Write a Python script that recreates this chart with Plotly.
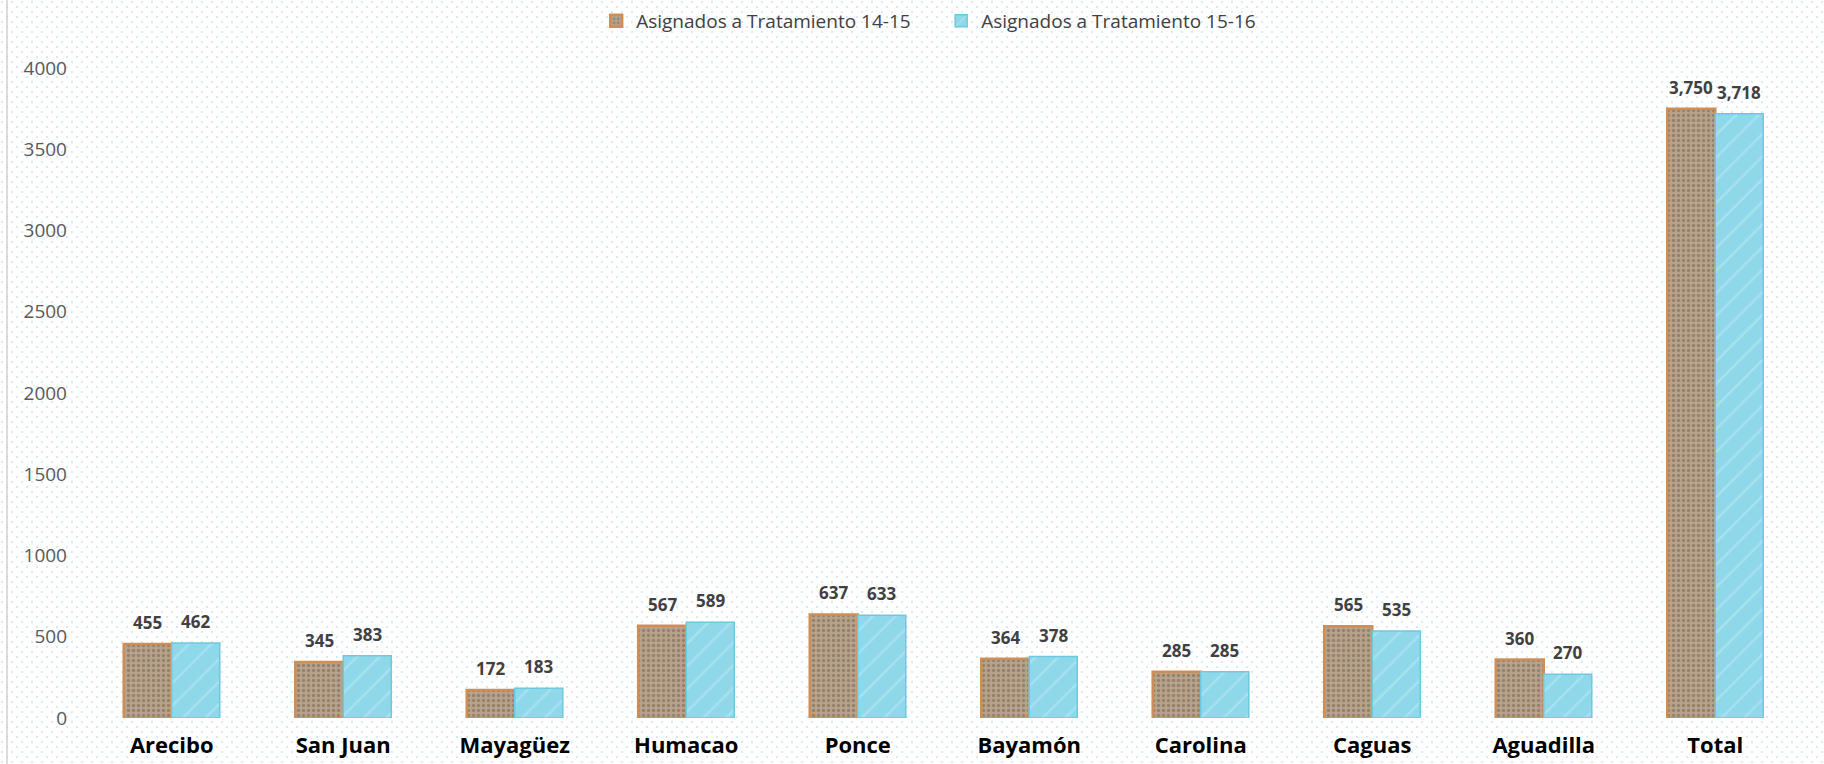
import plotly.graph_objects as go

categories = ["Arecibo", "San Juan", "Mayagüez", "Humacao", "Ponce", "Bayamón", "Carolina", "Caguas", "Aguadilla", "Total"]
series_names = ["Asignados a Tratamiento 14-15", "Asignados a Tratamiento 15-16"]
values_1415 = [455, 345, 172, 567, 637, 364, 285, 565, 360, 3750]
values_1516 = [462, 383, 183, 589, 633, 378, 285, 535, 270, 3718]
y_ticks = [0, 500, 1000, 1500, 2000, 2500, 3000, 3500, 4000]

W, H = 1824, 764
ML, MR, MT, MB = 86, 23, 68, 46
PW, PH = W - ML - MR, H - MT - MB

FONT = "Open Sans"
LABEL_FONT = dict(family=FONT, size=17, color="#404040", weight="bold")

dots_svg = (
    "data:image/svg+xml;utf8,"
    "<svg xmlns='http://www.w3.org/2000/svg' width='1824' height='764'>"
    "<defs><pattern id='p' width='10' height='10' patternUnits='userSpaceOnUse'>"
    "<circle cx='2' cy='2' r='0.9' fill='%23c9dfe6'/>"
    "<circle cx='7' cy='7' r='0.9' fill='%23c9dfe6'/>"
    "</pattern></defs>"
    "<rect width='1824' height='764' fill='url(%23p)'/></svg>"
)

fig = go.Figure()
fig.add_trace(go.Bar(
    x=categories, y=values_1415, name=series_names[0],
    marker=dict(color="#b09a84", line=dict(width=2.5, color="#cf8e55"),
                pattern=dict(shape=".", fgcolor="#6e6256", bgcolor="#b8a28a", size=5, solidity=0.35)),
))
fig.add_trace(go.Bar(
    x=categories, y=values_1516, name=series_names[1],
    marker=dict(color="#8fd8ea", line=dict(width=1.5, color="#6ec8df"),
                pattern=dict(shape="/", fgcolor="#bfeaf4", bgcolor="#8fd8ea", size=16, solidity=0.15)),
))

# value labels above each bar
bar_half = 0.5 * PW / len(categories) * (1 - 0.44) / 2
annotations = []
for vals, sign in ((values_1415, -1), (values_1516, 1)):
    for c, v in zip(categories, vals):
        annotations.append(dict(
            x=c, y=v, xref="x", yref="y", text=f"{v:,}", showarrow=False,
            xanchor="center", yanchor="bottom", xshift=sign * bar_half, yshift=8,
            font=LABEL_FONT,
        ))

fig.update_layout(
    width=W, height=H,
    margin=dict(l=ML, r=MR, t=MT, b=MB, autoexpand=False),
    paper_bgcolor="white", plot_bgcolor="rgba(0,0,0,0)",
    barmode="group", bargap=0.44, bargroupgap=0,
    font=dict(family=FONT, color="#595959"),
    showlegend=True,
    legend=dict(orientation="h", x=0.516, xanchor="center", xref="container",
                y=1 - 21 / H, yanchor="middle", yref="container",
                font=dict(family=FONT, size=19, color="#404040"), itemwidth=30,
                entrywidth=300, entrywidthmode="pixels",
                bgcolor="rgba(0,0,0,0)", traceorder="normal"),
    xaxis=dict(showgrid=False, showline=False, zeroline=False, ticks="",
               tickfont=dict(family=FONT, size=22, color="#000000", weight="bold"),
               ticklabelstandoff=12),
    yaxis=dict(range=[0, 4000], tickvals=y_ticks, showgrid=False, zeroline=False, showline=False,
               ticks="", tickfont=dict(family=FONT, size=19, color="#595959"),
               ticklabelstandoff=18),
    annotations=annotations,
    images=[dict(source=dots_svg, xref="paper", yref="paper",
                 x=-ML / PW, y=1 + MT / PH,
                 sizex=W / PW, sizey=H / PH,
                 xanchor="left", yanchor="top", sizing="stretch", layer="below")],
    shapes=[dict(type="line", xref="paper", yref="paper",
                 x0=(7 - ML) / PW, x1=(7 - ML) / PW,
                 y0=-MB / PH, y1=1 + MT / PH,
                 line=dict(color="#d0d0d0", width=1.5))],
)

fig.write_html("out.html", config={"displayModeBar": False},
               post_script="document.body.style.margin='0';document.body.style.overflow='hidden';")
